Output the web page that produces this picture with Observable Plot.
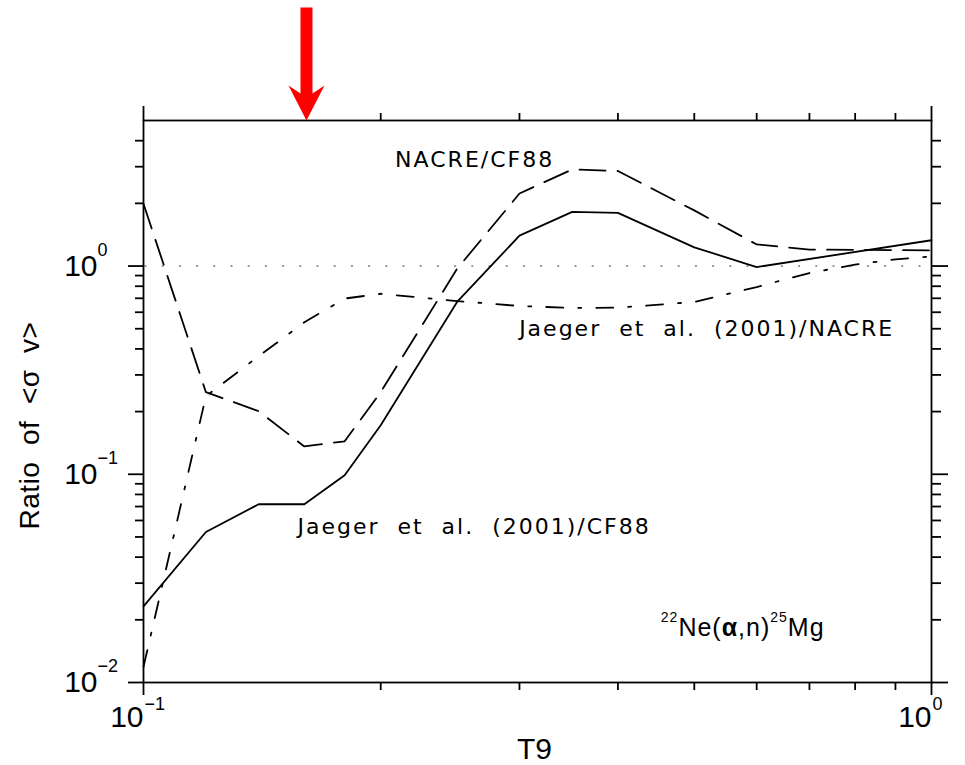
<!DOCTYPE html>
<html>
<head>
<meta charset="utf-8">
<script src="https://cdn.jsdelivr.net/npm/d3@7"></script>
<script src="https://cdn.jsdelivr.net/npm/@observablehq/plot@0.6"></script>
<style>
html, body { margin: 0; padding: 0; background: #fff; }
#chart svg { display: block; }
g[font-family="DejaVu Sans"] text { letter-spacing: 2px; white-space: pre; }
g[font-size="28"] text { white-space: pre; letter-spacing: 0.5px; }
g[font-size="25"] text { letter-spacing: 1px; }
</style>
</head>
<body>
<div id="chart"></div>
<script>
// ---- data ----
const xDomain = [0.1, 1];
const yDomain = [0.01, 5];

const jaegerCF88T9 = [0.1, 0.12, 0.14, 0.16, 0.18, 0.2, 0.25, 0.3, 0.35, 0.4, 0.5, 0.6, 1.0];
const jaegerCF88   = [0.0232, 0.0528, 0.0718, 0.0718, 0.0989, 0.172, 0.672, 1.40, 1.82, 1.80, 1.23, 0.989, 1.33];

const nacreCF88T9 = [0.1, 0.12, 0.14, 0.16, 0.18, 0.2, 0.25, 0.3, 0.35, 0.4, 0.5, 0.6, 0.7, 1.0];
const nacreCF88   = [1.99, 0.248, 0.201, 0.136, 0.144, 0.248, 0.97, 2.23, 2.91, 2.86, 1.85, 1.27, 1.20, 1.19];

const jaegerNACRET9 = [0.1, 0.12, 0.14, 0.16, 0.18, 0.2, 0.25, 0.3, 0.35, 0.4, 0.5, 0.6, 0.7, 0.8, 0.9, 1.0];
const jaegerNACRE   = [0.0119, 0.237, 0.369, 0.537, 0.698, 0.736, 0.679, 0.643, 0.629, 0.631, 0.672, 0.793, 0.926, 1.016, 1.077, 1.113];

const xMajor = [0.1, 1];
const xMinor = [0.2, 0.3, 0.4, 0.5, 0.6, 0.7, 0.8, 0.9];
const yMajor = [0.01, 0.1, 1];
const yMinor = [0.02, 0.03, 0.04, 0.05, 0.06, 0.07, 0.08, 0.09,
                0.2, 0.3, 0.4, 0.5, 0.6, 0.7, 0.8, 0.9,
                2, 3, 4];
const tickBase = "10";
const tickExponent = ["\u22122", "\u22121", "0"]; // for 0.01, 0.1, 1
const xTitle = "T9";
const yTitle = "Ratio  of  <\u03c3  v>";

const annText  = ["NACRE/CF88", "Jaeger  et  al.  (2001)/NACRE", "Jaeger  et  al.  (2001)/CF88"];
const annT9    = [0.2086, 0.2997, 0.1568];
const annRatio = [3.22, 0.497, 0.0558];

const reactionLabel = "22Ne(\u03b1,n)25Mg";
const reactionT9 = [0.4534];
const reactionRatio = [0.01837];

const arrowT9 = [0.161];

// ---- tables ----
const toRows = (xs, ys) => xs.map((x, i) => ({T9: x, ratio: ys[i]}));
const rowsSolid = toRows(jaegerCF88T9, jaegerCF88);
const rowsDash = toRows(nacreCF88T9, nacreCF88);
const rowsDashDot = toRows(jaegerNACRET9, jaegerNACRE);
const annRows = annText.map((t, i) => ({text: t, T9: annT9[i], ratio: annRatio[i]}));
const expOf = d => tickExponent[Math.round(Math.log10(d)) + 2];
const xExpOf = d => (d === 1 ? "0" : "\u22121");

const blockArrow = {
  draw(ctx, l) {
    const hw = 6, hh = 18, hl = 35, hj = 27;
    ctx.moveTo(-hw, 0);
    ctx.lineTo(-hw, -l + hj);
    ctx.lineTo(-hh, -l + hl);
    ctx.lineTo(0, -l);
    ctx.lineTo(hh, -l + hl);
    ctx.lineTo(hw, -l + hj);
    ctx.lineTo(hw, 0);
    ctx.closePath();
  }
};

const sw = 1.8;
const chart = Plot.plot({
  width: 965,
  height: 765,
  marginLeft: 143,
  marginRight: 34,
  marginTop: 120,
  marginBottom: 83,
  x: {type: "log", domain: xDomain},
  y: {type: "log", domain: yDomain},
  style: {fontFamily: "'Liberation Sans', Arial, sans-serif", color: "black", background: "white"},
  marks: [
    Plot.ruleY([1], {stroke: "#999", strokeWidth: 2, strokeDasharray: "2,15.2", strokeDashoffset: -1.5}),
    Plot.line(rowsDash, {x: "T9", y: "ratio", stroke: "black", strokeWidth: sw, strokeDasharray: "26,12"}),
    Plot.line(rowsDashDot, {x: "T9", y: "ratio", stroke: "black", strokeWidth: sw, strokeDasharray: "17,15,3,15"}),
    Plot.line(rowsSolid, {x: "T9", y: "ratio", stroke: "black", strokeWidth: sw}),
    Plot.frame({stroke: "black", strokeWidth: sw}),
    // axes
    Plot.axisX(xMinor, {anchor: "bottom", tickSize: 8, tickFormat: () => "", strokeWidth: sw, label: null}),
    Plot.axisX(xMajor, {anchor: "bottom", tickSize: 13, tickPadding: 10, tickFormat: () => tickBase, textAnchor: "end", fontSize: 30, strokeWidth: sw, label: null}),
    Plot.axisX(xMinor, {anchor: "top", tickSize: 8, tickFormat: () => "", strokeWidth: sw, label: null}),
    Plot.axisX(xMajor, {anchor: "top", tickSize: 15, tickFormat: () => "", strokeWidth: sw, label: null}),
    Plot.axisY(yMinor, {anchor: "left", tickSize: 8, tickFormat: () => "", strokeWidth: sw, label: null}),
    Plot.axisY(yMajor, {anchor: "left", tickSize: 15, tickPadding: 31, tickFormat: () => tickBase, fontSize: 30, strokeWidth: sw, label: null}),
    Plot.axisY(yMinor, {anchor: "right", tickSize: 9, tickFormat: () => "", strokeWidth: sw, label: null}),
    Plot.axisY(yMajor, {anchor: "right", tickSize: 16, tickFormat: () => "", strokeWidth: sw, label: null}),
    // exponents
    Plot.text(xMajor, {x: d => d, frameAnchor: "bottom", text: xExpOf, textAnchor: "start", lineAnchor: "top", dx: 1, dy: 15, fontSize: 18}),
    Plot.text(yMajor, {y: d => d, frameAnchor: "left", text: expOf, textAnchor: "start", lineAnchor: "top", dx: -46, dy: -23, fontSize: 18}),
    // axis titles
    Plot.text([xTitle], {frameAnchor: "bottom", text: d => d, textAnchor: "middle", lineAnchor: "top", dx: -3, dy: 55, fontSize: 30}),
    Plot.text([yTitle], {frameAnchor: "left", text: d => d, rotate: -90, textAnchor: "middle", lineAnchor: "middle", dx: -113, dy: 24, fontSize: 28}),
    // annotations
    Plot.text(annRows, {x: "T9", y: "ratio", text: "text", textAnchor: "start", lineAnchor: "middle", fontFamily: "DejaVu Sans", fontSize: 22}),
    Plot.text([reactionLabel], {x: () => reactionT9[0], y: () => reactionRatio[0], text: d => d, textAnchor: "start", lineAnchor: "middle", fontSize: 25}),
    // red arrow
    Plot.vector(arrowT9, {x: d => d, y: () => yDomain[1], length: 113, rotate: 180, anchor: "end", shape: blockArrow, fill: "#ff0000", stroke: "none"})
  ]
});
document.getElementById("chart").appendChild(chart);

// rich text for the reaction label (superscripts, bold alpha)
const ns = "http://www.w3.org/2000/svg";
chart.querySelectorAll("text").forEach(t => {
  if (t.textContent === reactionLabel) {
    while (t.firstChild) t.removeChild(t.firstChild);
    const parts = [
      ["22", "sup"], ["Ne(", "n"], ["\u03b1", "b"], [",n)", "n"], ["25", "sup"], ["Mg", "n"]
    ];
    let raised = false;
    for (const [s, kind] of parts) {
      const sp = document.createElementNS(ns, "tspan");
      sp.textContent = s;
      if (kind === "sup") {
        sp.setAttribute("font-size", "14");
        if (!raised) { sp.setAttribute("dy", "-14"); raised = true; }
      } else {
        if (raised) { sp.setAttribute("dy", "14"); raised = false; }
        if (kind === "b") sp.setAttribute("font-weight", "bold");
      }
      t.appendChild(sp);
    }
  }
});
</script>
</body>
</html>
